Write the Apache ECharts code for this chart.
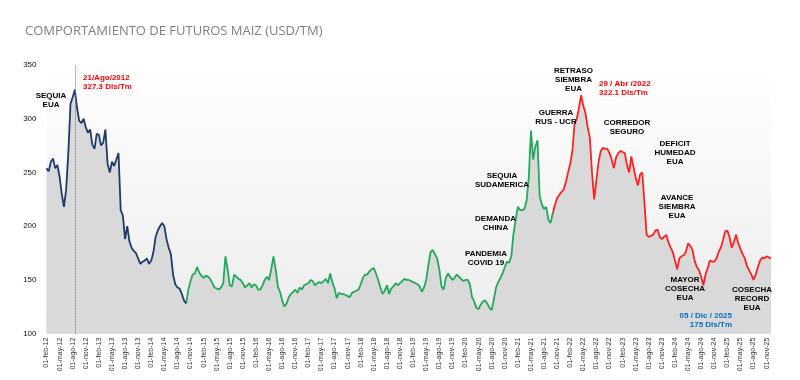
<!DOCTYPE html>
<html><head><meta charset="utf-8">
<script src="https://cdn.jsdelivr.net/npm/echarts@6/dist/echarts.min.js"></script>
<style>html,body{margin:0;padding:0;background:#fff}#c{width:800px;height:380px}</style>
</head><body><div id="c"></div>
<script>
// Spanish month abbreviations used in the tick labels
const MONTHS = ['ene','feb','mar','abr','may','jun','jul','ago','sep','oct','nov','dic'];
const START_YEAR = 2012;
const START_MONTH = 1; // feb (0-based)

// Corn futures, USD/TM, sampled on the 1st and 15th of each month (Feb-2012 .. Dec-2025)
const prices = [
  254,251,260,263,254,257,246,230,218,234,268,314,320,327,310,298,296,300,292,287,290,276,272,286,
  285,275,278,290,258,250,260,256,262,268,215,210,188,200,186,180,177,175,170,165,167,168,170,165,
  168,176,190,196,200,203,200,188,180,174,155,146,143,142,137,131,128,141,149,155,156,162,157,154,
  152,154,153,151,147,143,142,141,143,147,172,160,145,144,155,153,151,150,147,143,145,147,143,146,
  145,141,141,145,150,153,150,160,172,160,144,139,131,125,128,134,137,139,141,138,143,141,145,146,
  147,150,149,145,147,148,147,149,151,147,156,148,142,133,138,137,137,136,135,134,138,139,140,141,
  146,152,155,155,158,160,161,156,150,143,137,140,145,137,142,144,147,145,147,149,151,150,150,149,
  148,147,146,144,139,143,150,164,176,178,174,170,160,144,141,152,156,153,150,152,155,153,151,149,
  150,150,146,134,130,124,123,127,130,131,128,124,122,132,143,148,152,156,162,167,166,172,193,206,
  218,215,215,216,224,245,289,262,274,280,228,220,216,218,206,203,212,220,226,229,232,234,241,250,
  258,270,296,300,310,322,312,305,292,282,249,225,243,260,270,273,272,272,268,262,254,264,268,270,
  269,268,257,250,265,255,245,238,248,250,222,192,190,191,192,196,197,190,188,190,192,185,180,176,
  168,160,170,172,173,176,184,182,178,168,162,159,153,145,155,161,168,167,167,170,176,180,187,195,
  196,190,180,185,192,184,179,174,170,163,159,155,150,155,162,168,171,170,172,171,170
];

// Category labels (dates) for each sample
const dates = prices.map((_, i) => {
  const mi = START_MONTH + Math.floor(i / 2);
  const y = START_YEAR + Math.floor(mi / 12);
  return (i % 2 === 0 ? '01' : '15') + '-' + MONTHS[mi % 12] + '-' + String(y).slice(2);
});

// Y axis ticks
const yTicks = [100, 150, 200, 250, 300, 350];

// Index limits of colored periods
const bluePeriodEnd = 64;   // 01-oct-14
const greenPeriodEnd = 232; // 01-oct-21
const peakIndex = 13;       // Aug 2012 peak

const titleText = 'COMPORTAMIENTO DE FUTUROS MAIZ (USD/TM)';
const notes = {
  sequiaEUA: 'SEQUIA\nEUA',
  peak2012: '21/Ago/2012\n327.3 Dls/Tm',
  retraso: 'RETRASO\nSIEMBRA\nEUA',
  peak2022: '29 / Abr /2022\n322.1 Dls/Tm',
  guerra: 'GUERRA\nRUS - UCR',
  corredor: 'CORREDOR\nSEGURO',
  sudamerica: 'SEQUIA\nSUDAMERICA',
  china: 'DEMANDA\nCHINA',
  covid: 'PANDEMIA\nCOVID 19',
  deficit: 'DEFICIT\nHUMEDAD\nEUA',
  avance: 'AVANCE\nSIEMBRA\nEUA',
  mayor: 'MAYOR\nCOSECHA\nEUA',
  last: '05 / Dic / 2025\n175 Dls/Tm',
  record: 'COSECHA\nRECORD\nEUA'
};

const FONT = '"Liberation Sans", Arial, sans-serif';
function note(text, x, y, color, align) {
  return {
    type: 'text', x: x, y: y, z: 100,
    style: {
      text: text, fill: color || '#000', font: 'bold 8px ' + FONT,
      align: align || 'center', verticalAlign: 'middle', lineHeight: 9
    }
  };
}

const chart = echarts.init(document.getElementById('c'), null, {renderer: 'canvas'});
chart.setOption({
  backgroundColor: '#ffffff',
  animation: false,
  title: {
    text: titleText, left: 20, top: 20,
    textStyle: {fontSize: 13, fontWeight: 'normal', color: '#7f7f7f', fontFamily: '"Open Sans", sans-serif'}
  },
  grid: {
    left: 46.5, right: 29, top: 65, bottom: 46.3,
    show: true, borderWidth: 0,
    backgroundColor: {type: 'linear', x: 0, y: 0, x2: 0, y2: 1,
      colorStops: [{offset: 0, color: '#ffffff'}, {offset: 1, color: '#ececec'}]}
  },
  visualMap: {
    show: false, type: 'piecewise', dimension: 0, seriesIndex: 0,
    pieces: [
      {lte: bluePeriodEnd, color: '#1f3a6f'},
      {gt: bluePeriodEnd, lte: greenPeriodEnd, color: '#23a95b'},
      {gt: greenPeriodEnd, color: '#ff2020'}
    ]
  },
  xAxis: {
    type: 'category', data: dates, boundaryGap: false,
    axisLine: {show: false}, axisTick: {show: false},
    axisLabel: {
      interval: (i) => i % 6 === 0,
      rotate: 90, fontSize: 7, color: '#333', margin: 4, fontFamily: FONT
    },
    splitLine: {show: false}
  },
  yAxis: {
    type: 'value', min: yTicks[0], max: yTicks[yTicks.length - 1], interval: 50,
    axisLine: {show: false}, axisTick: {show: false}, splitLine: {show: false},
    axisLabel: {fontSize: 8, color: '#111', margin: 10, fontFamily: FONT}
  },
  series: [{
    type: 'line', data: prices, showSymbol: false, symbol: 'none',
    lineStyle: {width: 1.8},
    areaStyle: {color: '#d9d9d9', opacity: 1},
    markLine: {
      silent: true, symbol: ['none', 'none'],
      label: {show: false},
      lineStyle: {type: 'dotted', color: '#777', width: 1},
      data: [{xAxis: dates[peakIndex]}]
    }
  }],
  graphic: [
    note(notes.sequiaEUA, 51, 100),
    note(notes.peak2012, 83, 82, '#ff0000', 'left'),
    note(notes.retraso, 573.5, 80),
    note(notes.peak2022, 599, 88, '#ff0000', 'left'),
    note(notes.guerra, 556, 117),
    note(notes.corredor, 627, 127),
    note(notes.sudamerica, 502, 180.5),
    note(notes.china, 495.5, 223),
    note(notes.covid, 486, 258.5),
    note(notes.deficit, 675, 152.5),
    note(notes.avance, 677, 206.5),
    note(notes.mayor, 685, 288.5),
    note(notes.last, 732, 320.5, '#0070c0', 'right'),
    note(notes.record, 752, 299)
  ]
});
</script></body></html>
